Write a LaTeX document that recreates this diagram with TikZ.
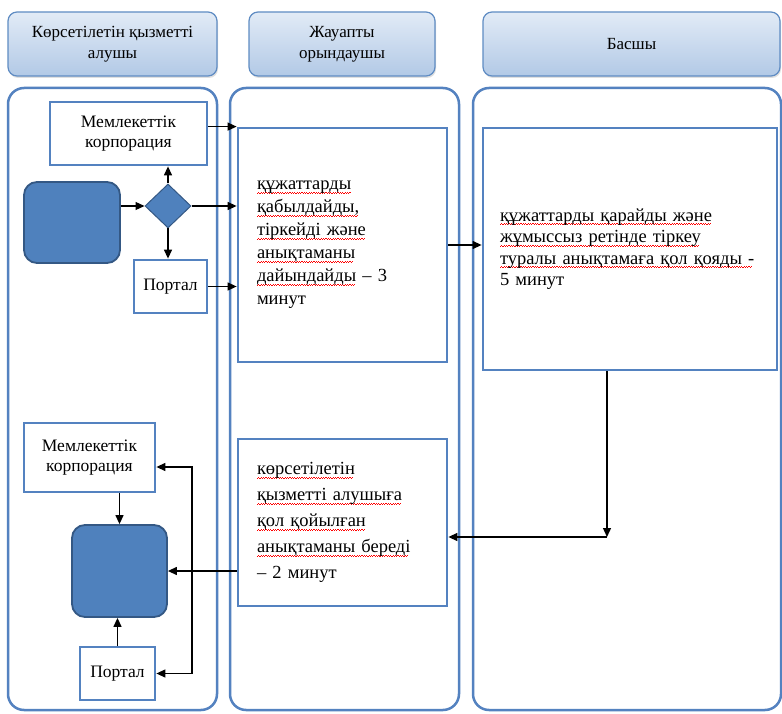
\documentclass[tikz,border=0pt]{standalone}
\usepackage{fontspec}
\setmainfont{Liberation Serif}
\usetikzlibrary{arrows.meta,shapes.geometric,shadows}
\definecolor{lanec}{RGB}{84,130,192}
\definecolor{hdrb}{RGB}{95,140,195}
\definecolor{hdrt}{RGB}{226,235,246}
\definecolor{hdrbot}{RGB}{178,201,230}
\definecolor{blkfill}{RGB}{79,129,189}
\definecolor{blkdraw}{RGB}{52,88,132}
\newcommand\sq[1]{\leavevmode\setbox0\hbox{#1}\rlap{\hbox to \wd0{\leaders\hbox{\textcolor{red}{\rule[-4.4pt]{1.2pt}{1pt}\rule[-3.4pt]{1.2pt}{1pt}}}\hfill}}\box0\relax}
\begin{document}
\begin{tikzpicture}[x=1pt,y=-1pt,
  hdr/.style={draw=hdrb, line width=1.2pt, rounded corners=9pt, top color=hdrt, bottom color=hdrbot,
    drop shadow={opacity=0.25, shadow xshift=1pt, shadow yshift=-2pt},
    font=\fontsize{17}{21}\selectfont, align=center, inner sep=0pt},
  lane/.style={draw=lanec, line width=2.5pt, rounded corners=16pt, inner sep=0pt},
  box/.style={draw=lanec, line width=2.8pt, fill=white, inner sep=0pt, align=center,
    font=\fontsize{17.5}{20.5}\selectfont},
  txt/.style={box, align=left, inner xsep=19pt, inner ysep=0pt},
  blk/.style={draw=blkdraw, fill=blkfill, line width=1.8pt, rounded corners=13pt, inner sep=0pt},
  arr/.style={-{Triangle[length=9pt,width=8pt]}, line width=1.3pt},
  arrb/.style={{Triangle[length=9pt,width=8pt]}-{Triangle[length=9pt,width=8pt]}, line width=1.3pt}
]
\useasboundingbox (0,0) rectangle (782,714);
\fill[white] (0,0) rectangle (782,714);

% lanes
\node[lane, minimum width=209pt, minimum height=622pt] (l1) at (112.5,399) {};
\node[lane, minimum width=229pt, minimum height=622pt] (l2) at (344.5,399) {};
\node[lane, minimum width=308pt, minimum height=622pt] (l3) at (627,399) {};

% headers
\node[hdr, minimum width=209pt, minimum height=64pt] (h1) at (112.5,44) {Көрсетілетін қызметті\\алушы};
\node[hdr, minimum width=186pt, minimum height=64pt] (h2) at (342,44) {Жауапты\\орындаушы};
\node[hdr, minimum width=297pt, minimum height=64pt] (h3) at (631.5,44) {Басшы};

% lane 1 top
\node[box, minimum width=157pt, minimum height=63pt] (mk1) at (128.5,133.5) {Мемлекеттік\\корпорация};
\node[blk, minimum width=96pt, minimum height=81pt] (st) at (72,222.5) {};
\node[diamond, draw=blkdraw, fill=blkfill, line width=1pt, minimum width=46pt, minimum height=44pt, inner sep=0pt] (dia) at (168,206) {};
\node[box, minimum width=73pt, minimum height=53pt] (pt1) at (170.5,286.5) {Портал};

% lane 2 / 3 boxes
\node[txt, text width=171pt, minimum height=234pt, font=\fontsize{18.5}{23}\selectfont] (b1) at (342.5,245)
  {\sq{құжаттарды}\\\sq{қабылдайды,}\\\sq{тіркейді және}\\\sq{анықтаманы}\\\sq{дайындайды} – 3\\минут};
\node[txt, inner xsep=17pt, text width=260pt, minimum height=242pt, font=\fontsize{18.5}{21.5}\selectfont] (b2) at (630,249)
  {\sq{құжаттарды қарайды және}\\\sq{жұмыссыз ретінде тіркеу}\\\sq{туралы анықтамаға қол қояды -}\\5 минут};
\node[txt, text width=171pt, minimum height=167pt, font=\fontsize{18.5}{26}\selectfont] (b3) at (342.5,522.5)
  {\sq{көрсетілетін}\\\sq{қызметті алушыға}\\\sq{қол қойылған}\\\sq{анықтаманы береді}\\– 2 минут};

% lane 1 bottom
\node[box, minimum width=131pt, minimum height=69pt] (mk2) at (89.5,457.5) {Мемлекеттік\\корпорация};
\node[blk, minimum width=95pt, minimum height=92pt] (en) at (119.5,571) {};
\node[box, minimum width=75pt, minimum height=53pt] (pt2) at (117.5,673.5) {Портал};

% connectors top
\draw[arr] (st.east |- dia.west) -- (dia.west);
\draw[arr] (dia.north) -- (dia.north |- mk1.south);
\draw[arr] (dia.south) -- (dia.south |- pt1.north);
\draw[arr] (dia.east) -- (dia.east -| b1.west);
\draw[arr] (mk1.east |- b1.north) -- (b1.north west);
\draw[arr] (pt1.east) -- (pt1.east -| b1.west);
\draw[arr] (b1.east) -- (b1.east -| b2.west);

% connectors bottom
\coordinate (k) at (607,537);
\draw[arr] (b2.south -| k) -- (k);
\draw[arr] (k) -- (k -| b3.east);
\draw[arr] (b3.west |- en.east) -- (en.east);
\draw[arr] (en.north |- mk2.south) -- (en.north);
\draw[arr] (pt2.north) -- (pt2.north |- en.south);
\coordinate (bt) at (192,467);
\draw[arrb] (mk2.east |- bt) -- (bt) -- (bt |- pt2.east) -- (pt2.east);
\end{tikzpicture}
\end{document}
